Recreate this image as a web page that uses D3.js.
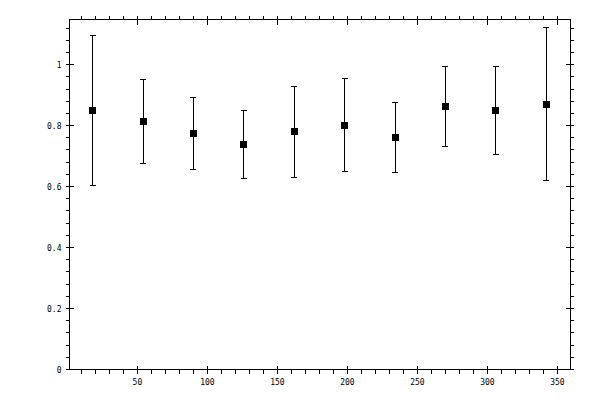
<!DOCTYPE html>
<html>
<head>
<meta charset="utf-8">
<script src="https://cdn.jsdelivr.net/npm/d3@7"></script>
<style>
  body { margin: 0; background: #fff; }
  svg { display: block; }
  text { font-family: "DejaVu Sans Mono", monospace; font-size: 8px; fill: #000; }
</style>
</head>
<body>
<div id="chart"></div>
<script>
// data
const xValues = [18, 54, 90, 126, 162, 198, 234, 270, 306, 342]
const yValues = [0.849, 0.813, 0.774, 0.738, 0.780, 0.800, 0.761, 0.862, 0.849, 0.869]
const yUpper = [1.096, 0.951, 0.892, 0.849, 0.928, 0.954, 0.875, 0.993, 0.993, 1.121]
const yLower = [0.603, 0.675, 0.656, 0.626, 0.630, 0.649, 0.646, 0.733, 0.705, 0.620]
const xMajorTicks = [50, 100, 150, 200, 250, 300, 350]
const xMinorTicks = d3.range(10, 360, 10)
const yMajorTicks = [0, 0.2, 0.4, 0.6, 0.8, 1]
const yMinorTicks = d3.range(0, 29).map(i => i * 0.04)

const width = 600
const height = 400
const plotLeft = 69.5, plotRight = 570, plotTop = 19.5, plotBottom = 369.5

const svg = d3.select('#chart').append('svg')
  .attr('width', width)
  .attr('height', height)

const x = d3.scaleLinear().domain([1.5, 359]).range([plotLeft, plotRight])
const y = d3.scaleLinear().domain([0, 1.148]).range([plotBottom, plotTop])

const g = svg.append('g')
  .attr('stroke', '#000')
  .attr('stroke-width', 1)
  .attr('shape-rendering', 'crispEdges')

// frame
g.append('rect')
  .attr('x', x(1.5)).attr('y', y(1.148))
  .attr('width', x(359) - x(1.5)).attr('height', y(0) - y(1.148))
  .attr('fill', 'none')

// minor ticks, outside the frame
g.selectAll('.xmin-b').data(xMinorTicks).enter().append('line')
  .attr('x1', d => x(d)).attr('x2', d => x(d))
  .attr('y1', plotBottom).attr('y2', plotBottom + 4)
g.selectAll('.xmin-t').data(xMinorTicks).enter().append('line')
  .attr('x1', d => x(d)).attr('x2', d => x(d))
  .attr('y1', plotTop).attr('y2', plotTop - 4)
g.selectAll('.ymin-l').data(yMinorTicks).enter().append('line')
  .attr('y1', d => y(d)).attr('y2', d => y(d))
  .attr('x1', plotLeft).attr('x2', plotLeft - 4)
g.selectAll('.ymin-r').data(yMinorTicks).enter().append('line')
  .attr('y1', d => y(d)).attr('y2', d => y(d))
  .attr('x1', plotRight).attr('x2', plotRight + 4)

// major ticks, crossing the frame
g.selectAll('.xmaj-b').data(xMajorTicks).enter().append('line')
  .attr('x1', d => x(d)).attr('x2', d => x(d))
  .attr('y1', plotBottom - 4).attr('y2', plotBottom + 4)
g.selectAll('.xmaj-t').data(xMajorTicks).enter().append('line')
  .attr('x1', d => x(d)).attr('x2', d => x(d))
  .attr('y1', plotTop - 4).attr('y2', plotTop + 5)
g.selectAll('.ymaj-l').data(yMajorTicks).enter().append('line')
  .attr('y1', d => y(d)).attr('y2', d => y(d))
  .attr('x1', plotLeft - 4).attr('x2', plotLeft + 4)
g.selectAll('.ymaj-r').data(yMajorTicks).enter().append('line')
  .attr('y1', d => y(d)).attr('y2', d => y(d))
  .attr('x1', plotRight - 4).attr('x2', plotRight + 4)

// tick labels
svg.selectAll('.xlab').data(xMajorTicks).enter().append('text')
  .attr('x', d => x(d)).attr('y', plotBottom + 15)
  .attr('text-anchor', 'middle')
  .text(d => d)
svg.selectAll('.ylab').data(yMajorTicks).enter().append('text')
  .attr('x', plotLeft - 8).attr('y', d => y(d) + 3)
  .attr('text-anchor', 'end')
  .text(d => d3.format('~g')(d))

// error bars
const bars = svg.append('g')
  .attr('stroke', '#000')
  .attr('stroke-width', 1)
  .attr('shape-rendering', 'crispEdges')
bars.selectAll('.bar').data(xValues).enter().append('line')
  .attr('x1', d => x(d)).attr('x2', d => x(d))
  .attr('y1', (d, i) => y(yUpper[i])).attr('y2', (d, i) => y(yLower[i]))
bars.selectAll('.cap-u').data(xValues).enter().append('line')
  .attr('x1', d => x(d) - 3).attr('x2', d => x(d) + 3)
  .attr('y1', (d, i) => y(yUpper[i])).attr('y2', (d, i) => y(yUpper[i]))
bars.selectAll('.cap-l').data(xValues).enter().append('line')
  .attr('x1', d => x(d) - 3).attr('x2', d => x(d) + 3)
  .attr('y1', (d, i) => y(yLower[i])).attr('y2', (d, i) => y(yLower[i]))

// square markers
svg.selectAll('.mark').data(xValues).enter().append('rect')
  .attr('x', d => x(d) - 3.5)
  .attr('y', (d, i) => y(yValues[i]) - 3.5)
  .attr('width', 7).attr('height', 7)
  .attr('fill', '#000')
  .attr('shape-rendering', 'crispEdges')
</script>
</body>
</html>
